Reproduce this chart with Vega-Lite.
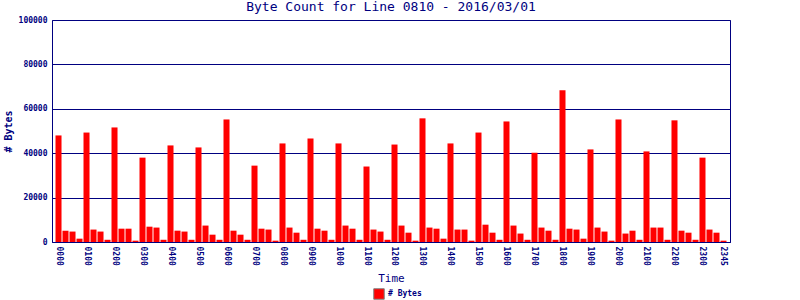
{
  "$schema": "https://vega.github.io/schema/vega-lite/v6.json",
  "width": 678,
  "height": 222,
  "autosize": {"type": "none"},
  "padding": {"left": 52, "top": 20, "right": 70, "bottom": 58},
  "background": "white",
  "title": {
    "text": "Byte Count for Line 0810 - 2016/03/01",
    "font": "DejaVu Sans Mono",
    "fontSize": 13,
    "fontWeight": "normal",
    "color": "#000080",
    "offset": 2,
    "anchor": "middle"
  },
  "config": {
    "view": {"stroke": "#000080", "strokeWidth": 1},
    "axis": {
      "labelFont": "DejaVu Sans Mono",
      "labelFontWeight": "bold",
      "labelFontSize": 8,
      "labelColor": "#000080",
      "titleFont": "DejaVu Sans Mono",
      "titleColor": "#000080",
      "titleFontWeight": "normal",
      "titleFontSize": 11,
      "ticks": false,
      "domainColor": "#000080"
    }
  },
  "data": {
    "values": [
      {"t": "0000", "bytes": 48000}, {"t": "0015", "bytes": 5100}, {"t": "0030", "bytes": 4700}, {"t": "0045", "bytes": 1500},
      {"t": "0100", "bytes": 49300}, {"t": "0115", "bytes": 5600}, {"t": "0130", "bytes": 4700}, {"t": "0145", "bytes": 1000},
      {"t": "0200", "bytes": 51600}, {"t": "0215", "bytes": 6000}, {"t": "0230", "bytes": 6000}, {"t": "0245", "bytes": 600},
      {"t": "0300", "bytes": 38000}, {"t": "0315", "bytes": 6900}, {"t": "0330", "bytes": 6500}, {"t": "0345", "bytes": 1000},
      {"t": "0400", "bytes": 43500}, {"t": "0415", "bytes": 5100}, {"t": "0430", "bytes": 4700}, {"t": "0445", "bytes": 1000},
      {"t": "0500", "bytes": 42600}, {"t": "0515", "bytes": 7400}, {"t": "0530", "bytes": 3300}, {"t": "0545", "bytes": 1000},
      {"t": "0600", "bytes": 55200}, {"t": "0615", "bytes": 5100}, {"t": "0630", "bytes": 3300}, {"t": "0645", "bytes": 1000},
      {"t": "0700", "bytes": 34400}, {"t": "0715", "bytes": 6000}, {"t": "0730", "bytes": 5600}, {"t": "0745", "bytes": 600},
      {"t": "0800", "bytes": 44400}, {"t": "0815", "bytes": 6500}, {"t": "0830", "bytes": 4200}, {"t": "0845", "bytes": 1000},
      {"t": "0900", "bytes": 46600}, {"t": "0915", "bytes": 6000}, {"t": "0930", "bytes": 5100}, {"t": "0945", "bytes": 1000},
      {"t": "1000", "bytes": 44400}, {"t": "1015", "bytes": 7400}, {"t": "1030", "bytes": 6000}, {"t": "1045", "bytes": 1000},
      {"t": "1100", "bytes": 34000}, {"t": "1115", "bytes": 5600}, {"t": "1130", "bytes": 4700}, {"t": "1145", "bytes": 1000},
      {"t": "1200", "bytes": 43900}, {"t": "1215", "bytes": 7400}, {"t": "1230", "bytes": 4200}, {"t": "1245", "bytes": 600},
      {"t": "1300", "bytes": 55700}, {"t": "1315", "bytes": 6500}, {"t": "1330", "bytes": 6000}, {"t": "1345", "bytes": 1500},
      {"t": "1400", "bytes": 44400}, {"t": "1415", "bytes": 5600}, {"t": "1430", "bytes": 5600}, {"t": "1445", "bytes": 600},
      {"t": "1500", "bytes": 49300}, {"t": "1515", "bytes": 7800}, {"t": "1530", "bytes": 4200}, {"t": "1545", "bytes": 1000},
      {"t": "1600", "bytes": 54300}, {"t": "1615", "bytes": 7400}, {"t": "1630", "bytes": 3800}, {"t": "1645", "bytes": 1000},
      {"t": "1700", "bytes": 40200}, {"t": "1715", "bytes": 6500}, {"t": "1730", "bytes": 5100}, {"t": "1745", "bytes": 1000},
      {"t": "1800", "bytes": 68300}, {"t": "1815", "bytes": 6000}, {"t": "1830", "bytes": 5600}, {"t": "1845", "bytes": 1500},
      {"t": "1900", "bytes": 41700}, {"t": "1915", "bytes": 6500}, {"t": "1930", "bytes": 4700}, {"t": "1945", "bytes": 600},
      {"t": "2000", "bytes": 55200}, {"t": "2015", "bytes": 3800}, {"t": "2030", "bytes": 5100}, {"t": "2045", "bytes": 1000},
      {"t": "2100", "bytes": 40800}, {"t": "2115", "bytes": 6500}, {"t": "2130", "bytes": 6500}, {"t": "2145", "bytes": 1000},
      {"t": "2200", "bytes": 54800}, {"t": "2215", "bytes": 5100}, {"t": "2230", "bytes": 4200}, {"t": "2245", "bytes": 1000},
      {"t": "2300", "bytes": 38000}, {"t": "2315", "bytes": 5600}, {"t": "2330", "bytes": 4200}, {"t": "2345", "bytes": 600}
    ]
  },
  "mark": {"type": "bar", "color": "#ff0000"},
  "encoding": {
    "x": {
      "field": "t",
      "type": "ordinal",
      "sort": null,
      "scale": {"paddingInner": 0.14, "paddingOuter": 0.5},
      "axis": {
        "title": "Time",
        "labelAngle": 90,
        "labelAlign": "left",
        "labelBaseline": "middle",
        "labelPadding": 4,
        "labelOverlap": false,
        "labelExpr": "substring(datum.value, 2, 4) == '00' || datum.value == '2345' ? datum.value : ''",
        "titlePadding": 7,
        "domain": true,
        "domainWidth": 1
      }
    },
    "y": {
      "field": "bytes",
      "type": "quantitative",
      "scale": {"domain": [0, 100000], "nice": false},
      "axis": {
        "title": "# Bytes",
        "format": "d",
        "values": [0, 20000, 40000, 60000, 80000, 100000],
        "grid": true,
        "gridColor": "#000080",
        "gridOpacity": 1,
        "gridWidth": 1,
        "domain": false,
        "labelPadding": 5,
        "titlePadding": 5,
        "titleFontSize": 10,
        "titleFontWeight": "bold"
      }
    },
    "color": {
      "datum": "# Bytes",
      "type": "nominal",
      "scale": {"range": ["#ff0000"]},
      "legend": {
        "title": null,
        "orient": "none",
        "legendX": 321,
        "legendY": 268,
        "direction": "horizontal",
        "symbolType": "square",
        "symbolSize": 110,
        "symbolStrokeColor": "#808080",
        "symbolStrokeWidth": 1,
        "symbolOpacity": 1,
        "labelFont": "DejaVu Sans Mono",
        "labelFontWeight": "bold",
        "labelFontSize": 8,
        "labelColor": "#000080",
        "labelOffset": 3,
        "padding": 0
      }
    }
  }
}
